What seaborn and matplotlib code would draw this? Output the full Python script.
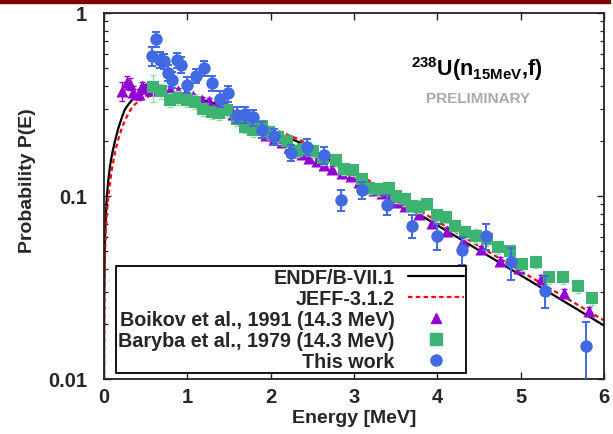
import matplotlib
matplotlib.use('Agg')
import matplotlib.pyplot as plt
import seaborn as sns
import pandas as pd
from matplotlib.lines import Line2D
from matplotlib.patches import Rectangle

# ---------------- data ----------------
E_endf = [0.0004, 0.001, 0.003, 0.008, 0.015, 0.032, 0.05, 0.072, 0.1, 0.132, 0.17, 0.21,
          0.25, 0.3, 0.35, 0.42, 0.5, 0.59, 0.75, 0.95, 1.15, 1.35, 1.55, 1.75, 1.95, 2.15,
          2.35, 3.0, 3.5, 4.0, 4.5, 5.0, 5.5, 6.0]
P_endf = [0.0107, 0.017, 0.029, 0.048, 0.066, 0.096, 0.12, 0.146, 0.172, 0.2, 0.233, 0.265,
          0.297, 0.32, 0.34, 0.357, 0.367, 0.372, 0.368, 0.353, 0.339, 0.318, 0.292, 0.262,
          0.236, 0.214, 0.196, 0.130, 0.0948, 0.0692, 0.0505, 0.0369, 0.0269, 0.0196]

E_jeff = [0.0005, 0.001, 0.003, 0.008, 0.015, 0.032, 0.05, 0.072, 0.1, 0.132, 0.17, 0.21,
          0.25, 0.3, 0.35, 0.42, 0.5, 0.6, 0.75, 0.95, 1.15, 1.35, 1.55, 1.75, 1.95, 2.15,
          2.35, 3.0, 3.5, 4.0, 4.5, 5.0, 5.5, 6.0]
P_jeff = [0.0098, 0.014, 0.024, 0.039, 0.054, 0.078, 0.097, 0.119, 0.145, 0.173, 0.203, 0.232,
          0.258, 0.287, 0.31, 0.332, 0.346, 0.359, 0.368, 0.362, 0.347, 0.325, 0.298, 0.27,
          0.242, 0.221, 0.203, 0.1355, 0.0993, 0.0727, 0.0532, 0.0389, 0.0285, 0.0209]

E_boikov = [0.21, 0.27, 0.31, 0.35, 0.42, 0.46, 0.50, 0.55, 0.62, 0.70, 0.79, 0.89, 0.98,
            1.07, 1.17, 1.26, 1.36, 1.45, 1.55, 1.65, 1.74, 1.84, 1.94, 2.04, 2.13, 2.22,
            2.30, 2.37, 2.46, 2.55, 2.64, 2.74, 2.85, 2.96, 3.06, 3.15, 3.24, 3.33, 3.42,
            3.52, 3.61, 3.78, 3.94, 4.12, 4.31, 4.52, 4.75, 4.98, 5.24, 5.52, 5.82]
P_boikov = [0.376, 0.42, 0.41, 0.37, 0.36, 0.40, 0.39, 0.38, 0.38, 0.38, 0.384, 0.376, 0.37,
            0.35, 0.335, 0.33, 0.32, 0.31, 0.28, 0.265, 0.25, 0.235, 0.215, 0.205, 0.198,
            0.185, 0.175, 0.17, 0.162, 0.155, 0.148, 0.14, 0.134, 0.128, 0.12, 0.115, 0.108,
            0.104, 0.098, 0.093, 0.088, 0.08, 0.071, 0.0646, 0.057, 0.0513, 0.0443, 0.0403,
            0.0352, 0.0294, 0.0235]
err_boikov = [0.045, 0.035, 0.03, 0.03, 0.025, 0.02, 0.02, 0.015, 0.015, 0.015, 0.015, 0.015,
              0.014, 0.013, 0.012, 0.012, 0.012, 0.011, 0.01, 0.01, 0.009, 0.009, 0.008,
              0.008, 0.007, 0.007, 0.007, 0.006, 0.006, 0.006, 0.005, 0.005, 0.005, 0.005,
              0.004, 0.004, 0.004, 0.004, 0.004, 0.003, 0.003, 0.003, 0.003, 0.003, 0.002,
              0.002, 0.002, 0.002, 0.002, 0.0015, 0.0012]

E_baryba = [0.59, 0.68, 0.79, 0.89, 0.99, 1.09, 1.19, 1.29, 1.38, 1.47, 1.59, 1.69, 1.79,
            1.89, 1.98, 2.09, 2.19, 2.31, 2.39, 2.51, 2.63, 2.78, 2.88, 2.99, 3.09, 3.18,
            3.29, 3.42, 3.51, 3.61, 3.69, 3.78, 3.88, 3.99, 4.10, 4.21, 4.33, 4.46, 4.60,
            4.73, 4.87, 5.02, 5.18, 5.34, 5.51, 5.69, 5.86]
P_baryba = [0.393, 0.373, 0.336, 0.343, 0.336, 0.327, 0.299, 0.286, 0.284, 0.295, 0.262,
            0.239, 0.228, 0.24, 0.224, 0.209, 0.200, 0.177, 0.181, 0.177, 0.161, 0.157,
            0.141, 0.139, 0.124, 0.111, 0.109, 0.110, 0.100, 0.096, 0.0885, 0.0875, 0.0906,
            0.0788, 0.077, 0.0688, 0.0632, 0.0607, 0.058, 0.0524, 0.050, 0.0425, 0.0438,
            0.036, 0.036, 0.0321, 0.0276]
err_baryba = [0.065, 0.035, 0.03, 0.03, 0.03, 0.028, 0.025, 0.024, 0.023, 0.024, 0.021,
              0.019, 0.018, 0.019, 0.018, 0.017, 0.016, 0.014, 0.014, 0.014, 0.013, 0.013,
              0.011, 0.011, 0.01, 0.009, 0.009, 0.009, 0.008, 0.008, 0.007, 0.007, 0.007,
              0.0065, 0.0062, 0.0055, 0.005, 0.005, 0.0047, 0.0042, 0.004, 0.0035, 0.0035,
              0.003, 0.003, 0.0026, 0.0023]

E_tw = [0.57, 0.62, 0.67, 0.72, 0.77, 0.81, 0.87, 0.92, 1.00, 1.10, 1.20, 1.29, 1.39, 1.49,
        1.59, 1.69, 1.79, 1.89, 2.04, 2.24, 2.44, 2.64, 2.84, 3.09, 3.39, 3.69, 3.99, 4.29,
        4.59, 4.89, 5.29, 5.78]
P_tw = [0.585, 0.72, 0.556, 0.547, 0.47, 0.432, 0.553, 0.52, 0.406, 0.454, 0.50, 0.414,
        0.339, 0.364, 0.278, 0.28, 0.269, 0.23, 0.212, 0.172, 0.186, 0.168, 0.0955, 0.108,
        0.0897, 0.0689, 0.0604, 0.0509, 0.0604, 0.0436, 0.0304, 0.0151]
err_tw = [0.07, 0.072, 0.056, 0.05, 0.047, 0.043, 0.05, 0.052, 0.041, 0.041, 0.045, 0.037,
          0.034, 0.036, 0.028, 0.028, 0.027, 0.023, 0.021, 0.017, 0.019, 0.018, 0.013, 0.012,
          0.011, 0.0096, 0.0097, 0.0087, 0.0097, 0.0087, 0.0061, 0.0054]

x_ticks = [0, 1, 2, 3, 4, 5, 6]
y_ticks = [0.01, 0.1, 1]
y_ticklabels = ['0.01', '0.1', '1']
labels = ['ENDF/B-VII.1', 'JEFF-3.1.2', 'Boikov et al., 1991 (14.3 MeV)',
          'Baryba et al., 1979 (14.3 MeV)', 'This work']

# ---------------- styling ----------------
sns.set_theme(style='ticks')
plt.rcParams['font.family'] = ['Liberation Sans', 'DejaVu Sans']
plt.rcParams['font.weight'] = 'bold'
plt.rcParams['mathtext.fontset'] = 'custom'
plt.rcParams['mathtext.rm'] = 'Liberation Sans:bold'
plt.rcParams['mathtext.bf'] = 'Liberation Sans:bold'
plt.rcParams['mathtext.it'] = 'Liberation Sans:bold'

C_PURPLE = '#9400d3'
C_GREEN = '#3cb371'
C_BLUE = '#4169e1'

fig = plt.figure(figsize=(6.13, 4.35), dpi=100)
ax = fig.add_axes([104 / 613, 55 / 435, 500 / 613, 366 / 435])
ax.set_facecolor('white')
fig.patch.set_facecolor('white')

# curves
sns.lineplot(data=pd.DataFrame({'E': E_endf, 'P': P_endf}), x='E', y='P', ax=ax,
             color='black', lw=1.6, sort=False, estimator=None, zorder=2)
sns.lineplot(data=pd.DataFrame({'E': E_jeff, 'P': P_jeff}), x='E', y='P', ax=ax,
             color='red', lw=1.6, sort=False, estimator=None, dashes=False, zorder=2.1)
ax.lines[-1].set_dashes((2, 1.5))

# Boikov
ax.errorbar(E_boikov, P_boikov, yerr=err_boikov, fmt='none', ecolor=C_PURPLE, elinewidth=1,
            capsize=2.5, capthick=1, zorder=3)
sns.scatterplot(x=E_boikov, y=P_boikov, ax=ax, marker='^', s=75, color=C_PURPLE,
                linewidth=0, zorder=3.1)
# Baryba
ax.errorbar(E_baryba, P_baryba, yerr=err_baryba, fmt='none', ecolor='#9ad9b0', elinewidth=1,
            capsize=2.5, capthick=1, ls='--', zorder=4)
sns.scatterplot(x=E_baryba, y=P_baryba, ax=ax, marker='s', s=72, color=C_GREEN,
                linewidth=0, zorder=4.1)
# This work
ax.errorbar(E_tw, P_tw, yerr=err_tw, fmt='none', ecolor=C_BLUE, elinewidth=1.4,
            capsize=3.2, capthick=1.4, zorder=5)
sns.scatterplot(x=E_tw, y=P_tw, ax=ax, marker='o', s=80, color=C_BLUE,
                linewidth=0, zorder=5.1)

ax.set_yscale('log')
ax.set_xlim(0, 6)
ax.set_ylim(0.01, 1)
ax.set_xticks(x_ticks)
ax.set_xticklabels([str(t) for t in x_ticks])
ax.set_yticks(y_ticks)
ax.set_yticklabels(y_ticklabels)
ax.minorticks_on()
ax.xaxis.set_minor_locator(matplotlib.ticker.NullLocator())
ax.tick_params(which='both', direction='in', top=True, right=True, color='#222222')
ax.tick_params(which='major', length=5, width=1)
ax.tick_params(which='minor', length=2.8, width=0.9)
ax.tick_params(axis='x', which='major', labelsize=14.5, pad=6)
ax.tick_params(axis='y', which='major', labelsize=14.5, pad=12)
for lab in ax.get_xticklabels() + ax.get_yticklabels():
    lab.set_fontweight('bold')
for sp in ax.spines.values():
    sp.set_linewidth(1.3)
    sp.set_color('#222222')
    sp.set_visible(True)

ax.set_xlabel('Energy [MeV]', fontsize=14, fontweight='bold')
ax.set_ylabel('Probability P(E)', fontsize=14, fontweight='bold')
ax.xaxis.set_label_coords(0.5, -0.082)
ax.yaxis.set_label_coords(-0.136, 0.544)

ax.text(0.746, 0.83, r'$\mathbf{^{238}U(n_{15MeV}{,}f)}$', transform=ax.transAxes,
        ha='center', va='baseline', fontsize=15.5, color='black')
ax.text(0.748, 0.757, 'PRELIMINARY', transform=ax.transAxes, ha='center', va='baseline',
        fontsize=11, fontweight='bold', color='#aaaaaa')

handles = [Line2D([], [], color='black', lw=1.6),
           Line2D([], [], color='red', lw=1.6, dashes=(2, 1.5)),
           Line2D([], [], color=C_PURPLE, marker='^', ls='none', ms=7.5),
           Line2D([], [], color=C_GREEN, marker='s', ls='none', ms=8),
           Line2D([], [], color=C_BLUE, marker='o', ls='none', ms=8)]
leg = ax.legend(handles, labels, loc='lower left', bbox_to_anchor=(0.024, 0.016),
                markerfirst=False, frameon=True, fancybox=False, edgecolor='black',
                framealpha=1, handlelength=2.85, handletextpad=0.66, labelspacing=0.1,
                borderpad=0.12, borderaxespad=0, prop={'weight': 'bold', 'size': 14.2})
leg.get_frame().set_linewidth(1.3)
leg.set_zorder(10)

fig.patches.append(Rectangle((0, 1 - 3.5 / 435), 610 / 613, 3.5 / 435,
                             transform=fig.transFigure, color='#800000', zorder=0))

fig.savefig('out.png', dpi=100)
